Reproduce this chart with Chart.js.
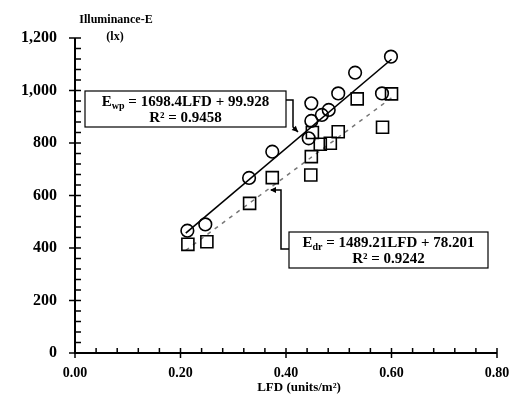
<!DOCTYPE html>
<html>
<head>
<meta charset="utf-8">
<script src="https://cdn.jsdelivr.net/npm/chart.js@4/dist/chart.umd.min.js"></script>
<style>
  html, body { margin: 0; padding: 0; background: #fff; }
  #wrap { width: 513px; height: 399px; position: relative; }
</style>
</head>
<body>
<div id="wrap"><canvas id="chart"></canvas></div>
<script>
// measured points: circles = E_wp, squares = E_dr
const lfdWp = [0.213, 0.247, 0.330, 0.374, 0.443, 0.448, 0.448, 0.468, 0.481, 0.499, 0.531, 0.582, 0.599];
const ewp   = [466, 490, 667, 767, 818, 884, 951, 907, 926, 989, 1068, 989, 1129];
const lfdDr = [0.214, 0.250, 0.331, 0.374, 0.447, 0.448, 0.450, 0.465, 0.484, 0.499, 0.535, 0.583, 0.600];
const edr   = [414, 424, 570, 668, 678, 748, 840, 795, 799, 843, 968, 860, 987];

// trend line end points
const trendX   = [0.21, 0.60];
const trendWp  = [457, 1119];
const trendDr  = [391, 972];

const xTicks = [0, 0.2, 0.4, 0.6, 0.8];
const yTicks = [0, 200, 400, 600, 800, 1000, 1200];

const FONT = '"Liberation Serif", "DejaVu Serif", serif';

const pts = (xs, ys) => xs.map((x, i) => ({ x: x, y: ys[i] }));

// axes, crossing major ticks, minor ticks, titles and the two equation boxes
const decorPlugin = {
  id: 'decor',
  afterDraw(chart) {
    const { ctx, chartArea: a, scales: { x, y } } = chart;
    ctx.save();
    ctx.strokeStyle = '#000';
    ctx.fillStyle = '#000';

    ctx.lineWidth = 2;
    ctx.beginPath();
    ctx.moveTo(a.left, a.top);
    ctx.lineTo(a.left, a.bottom);
    ctx.lineTo(a.right, a.bottom);
    ctx.stroke();

    ctx.lineWidth = 1.5;
    for (let v = 0; v <= 1200.001; v += 40) {
      const py = y.getPixelForValue(v);
      const major = Math.abs(v % 200) < 0.01;
      ctx.beginPath();
      ctx.moveTo(major ? a.left - 6 : a.left, py);
      ctx.lineTo(a.left + 6, py);
      ctx.stroke();
    }
    for (let v = 0; v <= 0.8001; v += 0.04) {
      const px = x.getPixelForValue(v);
      const major = Math.abs(v / 0.2 - Math.round(v / 0.2)) < 0.01;
      ctx.beginPath();
      ctx.moveTo(px, major ? a.bottom + 5 : a.bottom);
      ctx.lineTo(px, a.bottom - 5);
      ctx.stroke();
    }

    ctx.textAlign = 'center';
    ctx.textBaseline = 'middle';
    ctx.font = 'bold 12px ' + FONT;
    ctx.fillText('Illuminance-E', 116, 20);
    ctx.fillText('(lx)', 115, 37);
    ctx.font = 'bold 13px ' + FONT;
    ctx.fillText('LFD (units/m\u00b2)', 299, 388);

    drawBox(ctx, 85, 91, 286, 127, 'wp', ' = 1698.4LFD + 99.928', 'R\u00b2 = 0.9458');
    drawBox(ctx, 289, 232, 488, 268, 'dr', ' = 1489.21LFD + 78.201', 'R\u00b2 = 0.9242');

    // connector lines with arrow heads
    ctx.lineWidth = 1.5;
    ctx.beginPath();
    ctx.moveTo(286, 100);
    ctx.lineTo(293, 100);
    ctx.lineTo(293, 127);
    ctx.lineTo(298, 132);
    ctx.stroke();
    arrow(ctx, 298, 132, Math.PI / 4);

    ctx.beginPath();
    ctx.moveTo(289, 249);
    ctx.lineTo(281, 249);
    ctx.lineTo(281, 190);
    ctx.lineTo(271, 190);
    ctx.stroke();
    arrow(ctx, 270, 190, Math.PI);
    ctx.restore();
  }
};

function arrow(ctx, px, py, ang) {
  ctx.save();
  ctx.translate(px, py);
  ctx.rotate(ang);
  ctx.beginPath();
  ctx.moveTo(0, 0);
  ctx.lineTo(-6, -3);
  ctx.lineTo(-6, 3);
  ctx.closePath();
  ctx.fill();
  ctx.restore();
}

function drawBox(ctx, l, t, r, b, sub, rest, r2) {
  ctx.fillStyle = '#fff';
  ctx.fillRect(l, t, r - l, b - t);
  ctx.strokeStyle = '#000';
  ctx.lineWidth = 1.2;
  ctx.strokeRect(l, t, r - l, b - t);
  ctx.fillStyle = '#000';

  const big = 'bold 15px ' + FONT;
  const small = 'bold 10px ' + FONT;
  ctx.font = big;
  const wE = ctx.measureText('E').width;
  const wRest = ctx.measureText(rest).width;
  ctx.font = small;
  const wSub = ctx.measureText(sub).width;
  let cx = (l + r) / 2 - (wE + wSub + wRest) / 2;
  const y1 = t + 11;
  ctx.textAlign = 'left';
  ctx.textBaseline = 'middle';
  ctx.font = big;
  ctx.fillText('E', cx, y1);
  ctx.font = small;
  ctx.fillText(sub, cx + wE, y1 + 4);
  ctx.font = big;
  ctx.fillText(rest, cx + wE + wSub, y1);
  ctx.textAlign = 'center';
  ctx.fillText(r2, (l + r) / 2, t + 27);
}

new Chart(document.getElementById('chart'), {
  type: 'scatter',
  data: {
    datasets: [
      {
        label: 'E_wp',
        data: pts(lfdWp, ewp),
        pointStyle: 'circle',
        pointRadius: 6.3,
        borderColor: '#000',
        borderWidth: 1.6,
        backgroundColor: 'rgba(255,255,255,0)',
        order: 1
      },
      {
        label: 'E_dr',
        data: pts(lfdDr, edr),
        pointStyle: 'rect',
        pointRadius: 8.5,
        borderColor: '#000',
        borderWidth: 1.6,
        backgroundColor: 'rgba(255,255,255,0)',
        order: 1
      },
      {
        label: 'wp trend',
        data: pts(trendX, trendWp),
        showLine: true,
        pointRadius: 0,
        borderColor: '#000',
        borderWidth: 1.6,
        order: 2
      },
      {
        label: 'dr trend',
        data: pts(trendX, trendDr),
        showLine: true,
        pointRadius: 0,
        borderColor: '#777',
        borderWidth: 1.5,
        borderDash: [4, 5],
        order: 2
      }
    ]
  },
  options: {
    responsive: true,
    maintainAspectRatio: false,
    animation: false,
    devicePixelRatio: 1,
    layout: { padding: { top: 38, right: 16, left: 0, bottom: 0 } },
    plugins: {
      legend: { display: false },
      tooltip: { enabled: false }
    },
    scales: {
      x: {
        type: 'linear',
        min: 0,
        max: 0.8,
        afterFit: s => { s.height = 46; s.paddingLeft = 0; s.paddingRight = 0; },
        afterBuildTicks: s => { s.ticks = xTicks.map(v => ({ value: v })); },
        grid: { display: false, drawTicks: false },
        border: { display: false },
        ticks: {
          padding: 12,
          color: '#000',
          font: { family: FONT, size: 14, weight: 'bold' },
          callback: v => v.toFixed(2)
        }
      },
      y: {
        type: 'linear',
        min: 0,
        max: 1200,
        afterFit: s => { s.width = 75; s.paddingTop = 0; s.paddingBottom = 0; },
        afterBuildTicks: s => { s.ticks = yTicks.map(v => ({ value: v })); },
        grid: { display: false, drawTicks: false },
        border: { display: false },
        ticks: {
          padding: 18,
          color: '#000',
          font: { family: FONT, size: 16, weight: 'bold' },
          callback: v => v.toLocaleString('en-US')
        }
      }
    }
  },
  plugins: [decorPlugin]
});
</script>
</body>
</html>
